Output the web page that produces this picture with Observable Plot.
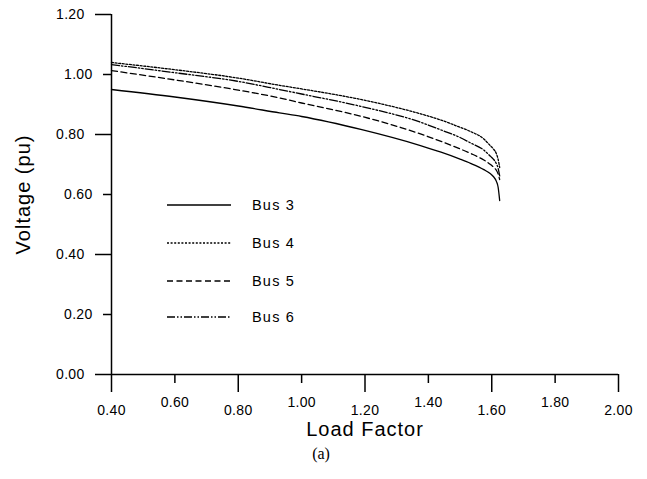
<!DOCTYPE html>
<html>
<head>
<meta charset="utf-8">
<script src="https://cdn.jsdelivr.net/npm/d3@7"></script>
<script src="https://cdn.jsdelivr.net/npm/@observablehq/plot@0.6"></script>
<style>
  body { margin: 0; background: #fff; }
  #wrap { position: relative; width: 647px; height: 479px; font-family: "Liberation Sans", Arial, sans-serif; }
  #legend { position: absolute; left: 0; top: 0; width: 647px; height: 479px; pointer-events: none; }
</style>
</head>
<body>
<div id="wrap"></div>
<script>
// Load factor sample points
const loadFactor = [0.40, 0.60, 0.80, 0.93, 1.00, 1.19, 1.375, 1.44, 1.50, 1.533, 1.575, 1.596, 1.605, 1.615, 1.62, 1.625];
// Bus voltages (pu)
const bus3 = [0.950, 0.925, 0.895, 0.872, 0.860, 0.816, 0.763, 0.741, 0.718, 0.704, 0.683, 0.669, 0.660, 0.643, 0.625, 0.580];
const bus4 = [1.040, 1.016, 0.988, 0.964, 0.952, 0.916, 0.869, 0.848, 0.824, 0.810, 0.785, 0.762, 0.752, 0.735, 0.718, 0.690];
const bus5 = [1.013, 0.982, 0.948, 0.922, 0.905, 0.860, 0.802, 0.777, 0.752, 0.737, 0.715, 0.700, 0.692, 0.680, 0.669, 0.650];
const bus6 = [1.033, 1.006, 0.977, 0.950, 0.935, 0.893, 0.841, 0.815, 0.790, 0.772, 0.748, 0.727, 0.718, 0.702, 0.688, 0.662];
const seriesNames = ["Bus 3", "Bus 4", "Bus 5", "Bus 6"];
const xTicksLong = [0.4, 0.8, 1.2, 1.6, 2.0];
const xTicksShort = [0.6, 1.0, 1.4, 1.8];
const yTicksLong = [0.0, 0.4, 0.8, 1.2];
const yTicksShort = [0.2, 0.6, 1.0];

const dashes = {"Bus 3": null, "Bus 4": "2,1.6", "Bus 5": "6,3.5", "Bus 6": "8,2,1.5,2,1.5,2"};
const allSeries = [bus3, bus4, bus5, bus6];
const rows = [];
seriesNames.forEach((s, i) => loadFactor.forEach((x, j) => rows.push({series: s, x, v: allSeries[i][j]})));

const fmt = d => d.toFixed(2);
const tickFont = {fontSize: 14, fontFamily: "Liberation Sans, Arial, sans-serif"};

const chart = Plot.plot({
  width: 647,
  height: 479,
  marginLeft: 111,
  marginRight: 29,
  marginTop: 14,
  marginBottom: 105,
  style: {fontFamily: "Liberation Sans, Arial, sans-serif", background: "#fff", color: "#000"},
  x: {domain: [0.4, 2.0]},
  y: {domain: [0, 1.2]},
  marks: [
    Plot.axisX(xTicksLong, {tickSize: 18, tickPadding: 13, tickFormat: fmt, strokeWidth: 1.5, label: null, ...tickFont}),
    Plot.axisX(xTicksShort, {tickSize: 9, tickPadding: 14, tickFormat: fmt, strokeWidth: 1.5, label: null, ...tickFont}),
    Plot.axisY(yTicksLong, {tickSize: 16, tickPadding: 11, tickFormat: fmt, strokeWidth: 1.5, label: null, ...tickFont}),
    Plot.axisY(yTicksShort, {tickSize: 8, tickPadding: 11, tickFormat: fmt, strokeWidth: 1.5, label: null, ...tickFont}),
    Plot.ruleX([0.4], {strokeWidth: 1.5}),
    Plot.ruleY([0], {strokeWidth: 1.5}),
    ...seriesNames.map(s => Plot.line(rows.filter(r => r.series === s), {
      x: "x", y: "v", stroke: "#000", strokeWidth: 1.3, curve: "monotone-x",
      strokeDasharray: dashes[s]
    })),
    Plot.text(["Load Factor"], {frameAnchor: "bottom", dy: 61, fontSize: 20, fill: "#000"}),
    Plot.text(["Voltage (pu)"], {frameAnchor: "left", textAnchor: "middle", dx: -88, rotate: -90, fontSize: 20, fill: "#000"}),
    Plot.text(["(a)"], {frameAnchor: "bottom", dy: 84, dx: -44, fontSize: 16, fontFamily: "Liberation Serif, Times New Roman, serif", fill: "#000"})
  ]
});
d3.select(chart).selectAll("text").filter(function() { return this.textContent === "Load Factor" || this.textContent === "Voltage (pu)"; }).style("letter-spacing", "1px");
d3.select(chart).selectAll("g[aria-label^='x-axis tick label'] text, g[aria-label^='y-axis tick label'] text").style("letter-spacing", "0.3px");

const wrap = document.getElementById("wrap");
wrap.appendChild(chart);

// Legend overlay
const legendRows = [205, 243, 281, 317];
const lg = d3.create("svg").attr("id", "legend").attr("width", 647).attr("height", 479);
seriesNames.forEach((s, i) => {
  const y = legendRows[i];
  lg.append("line").attr("x1", 167).attr("x2", 231).attr("y1", y).attr("y2", y)
    .attr("stroke", "#000").attr("stroke-width", 1.3)
    .attr("stroke-dasharray", dashes[s]);
  lg.append("text").attr("x", 252).attr("y", y).attr("dy", "0.35em")
    .attr("font-size", 14.5).attr("font-family", "Liberation Sans, Arial, sans-serif")
    .style("letter-spacing", "1.2px").text(s);
});
wrap.appendChild(lg.node());
</script>
</body>
</html>
